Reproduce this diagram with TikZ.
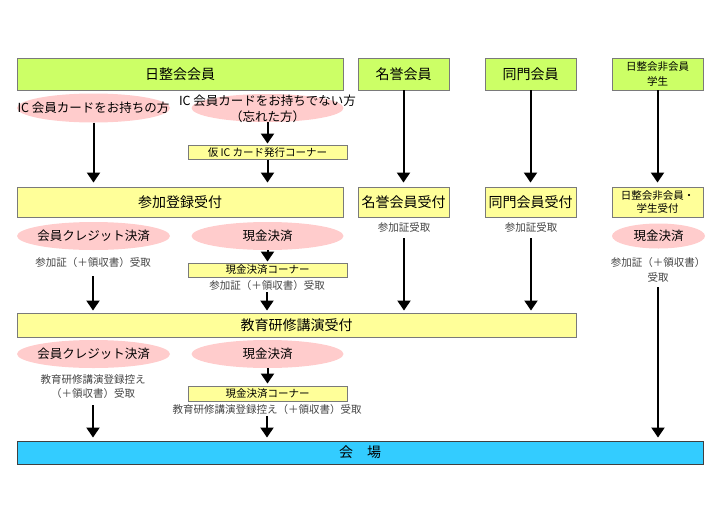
\documentclass[tikz,border=0pt]{standalone}
\usepackage{fontspec}
\setmainfont{Noto Sans CJK JP}
\usetikzlibrary{arrows.meta,shapes.geometric}
\definecolor{cgreen}{HTML}{CCFF66}
\definecolor{cyellow}{HTML}{FFFF99}
\definecolor{cpink}{HTML}{FFCCCC}
\definecolor{cblue}{HTML}{33CCFF}
\definecolor{cborder}{HTML}{7A7A7A}
\definecolor{ctext}{HTML}{444444}
\tikzset{
  box/.style={draw=cborder, line width=0.9pt, inner sep=0pt, align=center, text=black},
  greenbox/.style={box, fill=cgreen},
  yellowbox/.style={box, fill=cyellow},
  bluebox/.style={box, fill=cblue, draw=black!75},
  big/.style={font=\fontsize{14}{16}\selectfont},
  mid/.style={font=\fontsize{12.5}{16}\selectfont},
  small/.style={font=\fontsize{10.5}{14}\selectfont},
  pinkell/.style={ellipse, fill=cpink, draw=none, inner sep=0pt},
  lbl/.style={inner sep=0pt, align=center},
  note/.style={lbl, small, text=ctext},
  arr/.style={line width=2pt, -{Triangle[width=13pt,length=10pt]}},
  ln/.style={line width=2pt}
}
\begin{document}
\begin{tikzpicture}[x=1pt,y=-1pt]
\useasboundingbox (0,0) rectangle (720,509);
% top row
\node[greenbox, big, minimum width=326, minimum height=32] (nis) at (180,74) {日整会会員};
\node[greenbox, big, minimum width=91, minimum height=32] (mei) at (403.5,74) {名誉会員};
\node[greenbox, big, minimum width=91, minimum height=32] (dou) at (530.5,74) {同門会員};
\node[greenbox, small, minimum width=91, minimum height=32, font=\fontsize{10.5}{15}\selectfont] (hi) at (657.5,74) {日整会非会員\\学生};
% ellipses row 1
\node[pinkell, minimum width=153, minimum height=29] (e1) at (93.5,108) {};
\node[lbl, mid] (e1t) at (e1) {IC 会員カードをお持ちの方};
\node[pinkell, minimum width=152, minimum height=28] (e2) at (267.5,108) {};
\node[lbl, mid, font=\fontsize{12.5}{16}\selectfont] (e2t) at (267.5,108.5) {IC 会員カードをお持ちでない方\\（忘れた方）};
\node[yellowbox, small, minimum width=159, minimum height=14] (kari) at (267.5,152.5) {仮 IC カード発行コーナー};
% reception row
\node[yellowbox, big, minimum width=326, minimum height=30] (reg) at (180,202) {参加登録受付};
\node[yellowbox, big, minimum width=91, minimum height=30] (meiU) at (403.5,202) {名誉会員受付};
\node[yellowbox, big, minimum width=91, minimum height=30] (douU) at (530.5,202) {同門会員受付};
\node[yellowbox, small, minimum width=91, minimum height=30, font=\fontsize{10.5}{13.5}\selectfont] (hiU) at (657.5,202) {日整会非会員・\\学生受付};
% payment row 1
\node[pinkell, minimum width=153, minimum height=28] (c1) at (93.5,236) {};
\node[lbl, mid] at (c1) {会員クレジット決済};
\node[pinkell, minimum width=152, minimum height=28] (k1) at (267.5,236) {};
\node[lbl, mid] at (k1) {現金決済};
\node[pinkell, minimum width=93, minimum height=25] (k3) at (658.5,236) {};
\node[lbl, mid] at (k3) {現金決済};
\node[note] (t1) at (93,263) {参加証（＋領収書）受取};
\node[yellowbox, small, minimum width=159, minimum height=14] (kc1) at (267.5,270) {現金決済コーナー};
\node[note] (t2) at (267,286) {参加証（＋領収書）受取};
\node[note] (t3) at (404,228) {参加証受取};
\node[note] (t4) at (531,228) {参加証受取};
\node[note, font=\fontsize{10.5}{15}\selectfont] (t5) at (658,269.5) {参加証（＋領収書）\\受取};
% lecture row
\node[yellowbox, big, minimum width=559, minimum height=24] (kyo) at (296.5,325) {教育研修講演受付};
\node[pinkell, minimum width=153, minimum height=28] (c2) at (93.5,354) {};
\node[lbl, mid] at (c2) {会員クレジット決済};
\node[pinkell, minimum width=152, minimum height=28] (k2) at (267.5,354) {};
\node[lbl, mid] at (k2) {現金決済};
\node[note, font=\fontsize{10.5}{14}\selectfont] (t6) at (93,387) {教育研修講演登録控え\\（＋領収書）受取};
\node[yellowbox, small, minimum width=159, minimum height=15] (kc2) at (267.5,393.5) {現金決済コーナー};
\node[note] (t7) at (267,410) {教育研修講演登録控え（＋領収書）受取};
% venue
\node[bluebox, big, minimum width=686, minimum height=23] (hall) at (360,452.5) {会　場};
% arrows
\draw[arr, shorten >=4pt] (e1.south) -- (e1.south |- reg.north);
\draw[arr, shorten >=1.5pt] (e2.south) -- (kari.north);
\draw[arr, shorten >=4pt] (kari.south) -- (kari.south |- reg.north);
\draw[arr, shorten >=4pt] (mei.south) -- (meiU.north);
\draw[arr, shorten >=4pt] (dou.south) -- (douU.north);
\draw[arr, shorten >=4pt] (hi.south) -- (hiU.north);
\draw[arr, shorten >=1pt] (k1.south) -- (kc1.north);
\draw[arr, shorten <=8pt, shorten >=2pt] (t1.south) -- (t1.south |- kyo.north);
\draw[arr, shorten <=1pt, shorten >=2pt] (t2.south) -- (t2.south |- kyo.north);
\draw[arr, shorten <=5pt, shorten >=2pt] (t3.south) -- (t3.south |- kyo.north);
\draw[arr, shorten <=5pt, shorten >=2pt] (t4.south) -- (t4.south |- kyo.north);
\draw[arr, shorten <=5pt, shorten >=3pt] (t5.south) -- (t5.south |- hall.north);
\draw[arr, shorten >=2pt] (k2.south) -- (kc2.north);
\draw[arr, shorten <=6pt, shorten >=3pt] (t6.south) -- (t6.south |- hall.north);
\draw[arr, shorten <=1pt, shorten >=3pt] (t7.south) -- (t7.south |- hall.north);
\end{tikzpicture}
\end{document}
